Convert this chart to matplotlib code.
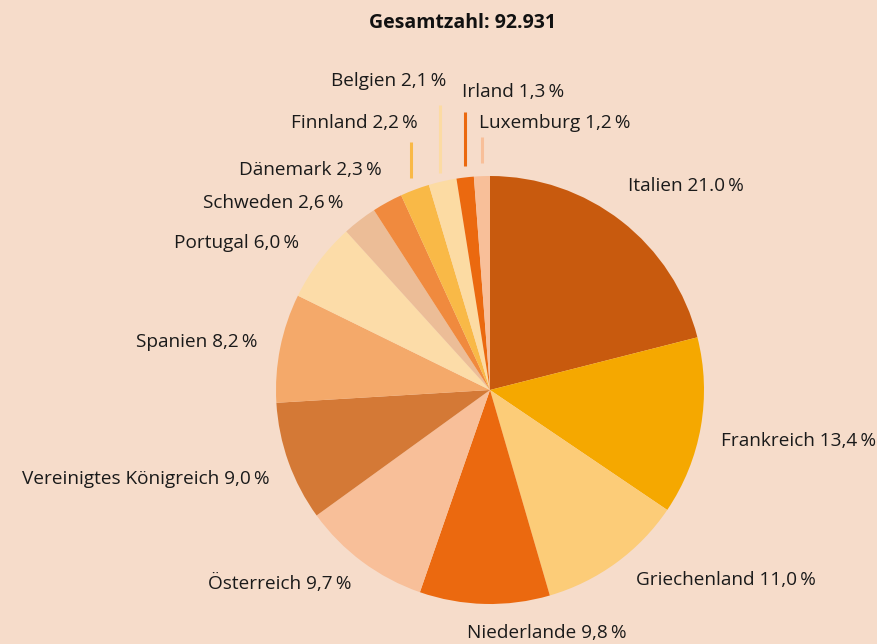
import matplotlib.pyplot as plt

# Data
countries = ["Italien", "Frankreich", "Griechenland", "Niederlande", "Österreich",
             "Vereinigtes Königreich", "Spanien", "Portugal", "Schweden", "Dänemark",
             "Finnland", "Belgien", "Irland", "Luxemburg"]
shares = [21.0, 13.4, 11.0, 9.8, 9.7, 9.0, 8.2, 6.0, 2.6, 2.3, 2.2, 2.1, 1.3, 1.2]
share_text = ["21.0", "13,4", "11,0", "9,8", "9,7", "9,0", "8,2", "6,0", "2,6", "2,3",
              "2,2", "2,1", "1,3", "1,2"]
total = "92.931"

colors = ["#C85A0E", "#F5A800", "#FCCC78", "#EB690F", "#F8BF99", "#D47936", "#F4A96A",
          "#FCDCA8", "#ECBD97", "#F08A3E", "#F9B947", "#FCDBA3", "#EB690F", "#F8BF99"]
bg = "#F6DCCA"

# label placement in pixels (x, y from top, alignment)
label_pos = [(628, 186, "left"), (876, 441, "right"), (636, 580, "left"),
             (467, 633, "left"), (352, 583, "right"), (270, 479, "right"),
             (258, 342, "right"), (299, 243, "right"), (344, 203, "right"),
             (382, 170, "right"), (418, 123, "right"), (446, 81, "right"),
             (462, 92, "left"), (479, 123, "left")]
# small leader lines for the narrow wedges: (index, x, y_top, y_bottom)
leaders = [(10, 411.5, 142, 178), (11, 440, 105, 173), (12, 465, 112, 166),
           (13, 482, 137, 163)]

W, H = 878, 644
fig = plt.figure(figsize=(W / 100, H / 100), dpi=100, facecolor=bg)
ax = fig.add_axes([0, 0, 1, 1])

ax.pie(shares, colors=colors, startangle=90, counterclock=False,
       center=(490, H - 390), radius=214, frame=True,
       wedgeprops=dict(linewidth=0))
ax.set_xlim(0, W)
ax.set_ylim(0, H)
ax.set_aspect("equal")
ax.axis("off")

font = "Open Sans"
for name, val, (x, y, ha) in zip(countries, share_text, label_pos):
    ax.text(x, H - y, f"{name} {val}\u2009%", ha=ha, va="center", fontsize=13.7,
            family=[font, "DejaVu Sans"], color="#1a1a1a")

for i, x, y0, y1 in leaders:
    ax.plot([x, x], [H - y0, H - y1], color=colors[i], lw=2.2, solid_capstyle="butt")

ax.text(463, H - 23, f"Gesamtzahl: {total}", ha="center", va="center",
        fontsize=14, fontweight="bold", family=font, color="#111111")

fig.savefig("out.png", dpi=100, facecolor=bg)
